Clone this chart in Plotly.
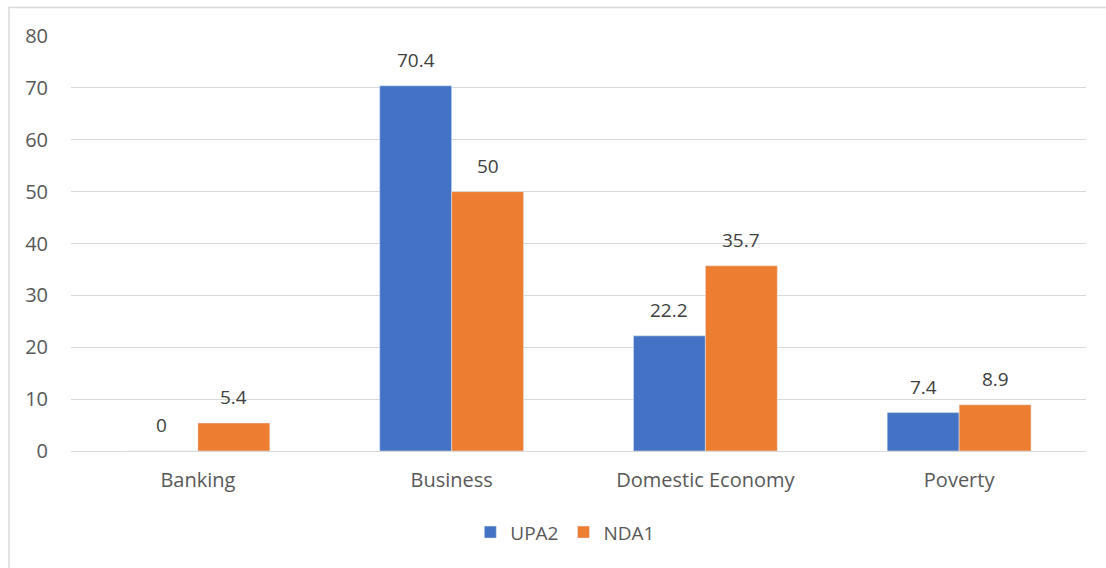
import plotly.graph_objects as go

categories = ["Banking", "Business", "Domestic Economy", "Poverty"]
upa2 = [0, 70.4, 22.2, 7.4]
nda1 = [5.4, 50, 35.7, 8.9]
y_ticks = [0, 10, 20, 30, 40, 50, 60, 70, 80]

FONT = "'Open Sans', sans-serif"
FS = 20
BAR_PX = 72  # approx rendered bar width, for label offsets

fig = go.Figure()
fig.add_trace(go.Bar(name="UPA2", x=categories, y=upa2, marker_color="#4472C4"))
fig.add_trace(go.Bar(name="NDA1", x=categories, y=nda1, marker_color="#ED7D31"))

annotations = []
for series, shift in ((upa2, -BAR_PX / 2), (nda1, BAR_PX / 2)):
    for c, v in zip(categories, series):
        annotations.append(dict(x=c, y=v, xref="x", yref="y", text=f"{v:g}", showarrow=False,
                                xshift=shift, yshift=11, yanchor="bottom",
                                font=dict(family=FONT, size=FS - 1, color="#404040")))

fig.update_layout(
    width=1106, height=568,
    margin=dict(l=71, r=20, t=35.5, b=117),
    paper_bgcolor="white", plot_bgcolor="white",
    barmode="group", bargap=0.433, bargroupgap=0,
    font=dict(family=FONT, size=FS, color="#595959"),
    showlegend=True,
    legend=dict(orientation="h", x=0.487, xanchor="center", y=-0.15, yanchor="top",
                font=dict(size=FS - 1, color="#595959"), itemwidth=30, traceorder="normal"),
    xaxis=dict(showgrid=False, showline=False, ticks="", tickfont=dict(size=FS, color="#595959"),
               ticklabelstandoff=15),
    yaxis=dict(range=[0, 80], tickvals=y_ticks, showgrid=True, gridcolor="#d9d9d9", gridwidth=1,
               zeroline=True, zerolinecolor="#d9d9d9", zerolinewidth=1,
               ticks="", tickfont=dict(size=FS, color="#595959"), ticklabelstandoff=22),
    annotations=annotations,
    shapes=[dict(type="rect", xref="paper", yref="paper",
                 x0=(9 - 71) / 1015, x1=1.2, y0=-0.6, y1=(451 - 7) / 415.5,
                 line=dict(color="#d9d9d9", width=1.5), fillcolor="rgba(0,0,0,0)", layer="below")],
)

fig.write_html("out.html", config={"displayModeBar": False},
               post_script="document.body.style.margin='0';document.body.style.overflow='hidden';")
